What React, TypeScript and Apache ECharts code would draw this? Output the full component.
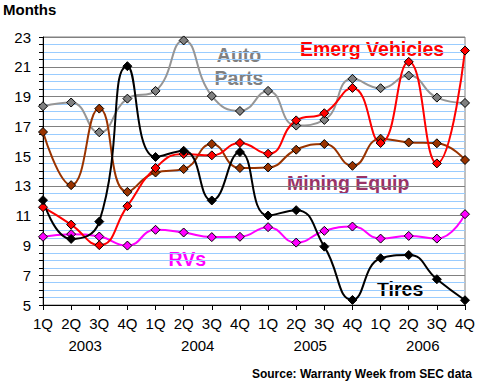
import React, { useEffect, useRef } from "react";
import * as echarts from "echarts";

const quarters = ["1Q","2Q","3Q","4Q","1Q","2Q","3Q","4Q","1Q","2Q","3Q","4Q","1Q","2Q","3Q","4Q"];
const years = ["2003", "2004", "2005", "2006"];
const autoParts = [18.35, 18.6, 16.6, 18.86, 19.38, 22.77, 19.04, 18.03, 19.38, 17.05, 17.43, 20.19, 19.56, 20.41, 18.93, 18.57];
const emergVehicles = [11.57, 10.4, 9.02, 11.64, 14.2, 15.14, 15.05, 15.88, 15.16, 17.4, 17.88, 19.58, 15.88, 21.33, 14.51, 22.09];
const miningEquip = [16.62, 13.05, 18.19, 12.6, 13.9, 14.13, 15.81, 14.2, 14.24, 15.43, 15.81, 14.35, 16.17, 15.92, 15.86, 14.74];
const rvs = [9.58, 9.76, 9.6, 8.99, 10.05, 9.87, 9.56, 9.58, 10.23, 9.19, 9.98, 10.27, 9.46, 9.64, 9.46, 11.1];
const tires = [12.04, 9.44, 10.6, 21.04, 14.94, 15.36, 12.02, 15.27, 11.01, 11.37, 8.92, 5.34, 8.14, 8.36, 6.73, 5.32];

const FONT = "Arial, 'Liberation Sans', sans-serif";

function mkSeries(name: string, data: number[], line: string, fill: string) {
  return {
    name,
    type: "line",
    data,
    smooth: 0.5,
    symbol: "diamond",
    symbolSize: 9,
    lineStyle: { color: line, width: 2 },
    itemStyle: { color: fill, borderColor: "#000", borderWidth: 1 },
  };
}

export default function App() {
  const ref = useRef<HTMLDivElement>(null);
  useEffect(() => {
    if (!ref.current) return;
    const chart = echarts.init(ref.current, undefined, { renderer: "svg" });
    chart.setOption({
      animation: false,
      backgroundColor: "#fff",
      grid: { left: 43, right: 15, top: 37, bottom: 82, show: true, borderColor: "#808080", borderWidth: 1 },
      xAxis: [
        {
          type: "category",
          data: quarters,
          boundaryGap: false,
          axisLine: { lineStyle: { color: "#000", width: 1 } },
          axisTick: { show: true, length: 5, lineStyle: { color: "#000" }, alignWithLabel: true },
          axisLabel: { color: "#000", fontSize: 15, fontFamily: FONT, margin: 11, interval: 0 },
          splitLine: { show: false },
        },
        {
          type: "value",
          min: 0,
          max: 15,
          position: "bottom",
          axisLine: { show: false },
          axisTick: { show: false },
          splitLine: { show: false },
          axisLabel: {
            customValues: [1.5, 5.5, 9.5, 13.5],
            formatter: (v: number) => years[Math.round((v - 1.5) / 4)] ?? "",
            color: "#000",
            fontSize: 15,
            fontFamily: FONT,
            margin: 33,
          },
        },
      ],
      yAxis: {
        type: "value",
        min: 5,
        max: 23,
        interval: 0.5,
        axisLine: { show: true, lineStyle: { color: "#000" } },
        axisTick: { show: true, length: 4, lineStyle: { color: "#000" } },
        axisLabel: {
          color: "#000",
          fontSize: 15,
          fontFamily: FONT,
          margin: 12,
          formatter: (v: number) => (Math.abs(((v - 5) % 2)) < 1e-6 ? String(v) : ""),
        },
        splitLine: { show: true, lineStyle: { color: ["#808080", "#99ccff", "#99ccff", "#99ccff"], width: 1 } },
      },
      series: [
        mkSeries("Auto Parts", autoParts, "#969696", "#808080"),
        mkSeries("Mining Equip", miningEquip, "#993300", "#993300"),
        mkSeries("RVs", rvs, "#ff00ff", "#ff00ff"),
        mkSeries("Emerg Vehicles", emergVehicles, "#ff0000", "#ff0000"),
        mkSeries("Tires", tires, "#000000", "#000000"),
      ],
      graphic: [
        { type: "text", x: 3, y: 9.8, style: { text: "Months", font: `bold 15px ${FONT}`, fill: "#000", textVerticalAlign: "middle" } },
        { type: "text", x: 239, y: 55.2, style: { text: "Auto", font: `bold 19.5px ${FONT}`, fill: "#808080", textAlign: "center", textVerticalAlign: "middle" } },
        { type: "text", x: 239, y: 78.2, style: { text: "Parts", font: `bold 19.5px ${FONT}`, fill: "#808080", textAlign: "center", textVerticalAlign: "middle" } },
        { type: "text", x: 300, y: 49.2, style: { text: "Emerg Vehicles", font: `bold 19.5px ${FONT}`, fill: "#ff0000", textVerticalAlign: "middle" } },
        { type: "text", x: 287, y: 183.2, style: { text: "Mining Equip", font: `bold 19.5px ${FONT}`, fill: "#993366", textVerticalAlign: "middle" } },
        { type: "text", x: 168.5, y: 259.2, style: { text: "RVs", font: `bold 19.5px ${FONT}`, fill: "#ff00ff", textVerticalAlign: "middle" } },
        { type: "text", x: 377, y: 288.9, style: { text: "Tires", font: `bold 19.5px ${FONT}`, fill: "#000", textVerticalAlign: "middle" } },
        { type: "text", x: 472, y: 373.8, style: { text: "Source: Warranty Week from SEC data", font: `bold 12px ${FONT}`, fill: "#000", textAlign: "right", textVerticalAlign: "middle" } },
      ],
    });
    return () => chart.dispose();
  }, []);
  return <div ref={ref} style={{ width: 480, height: 387, position: "absolute", left: 0, top: 0 }} />;
}
